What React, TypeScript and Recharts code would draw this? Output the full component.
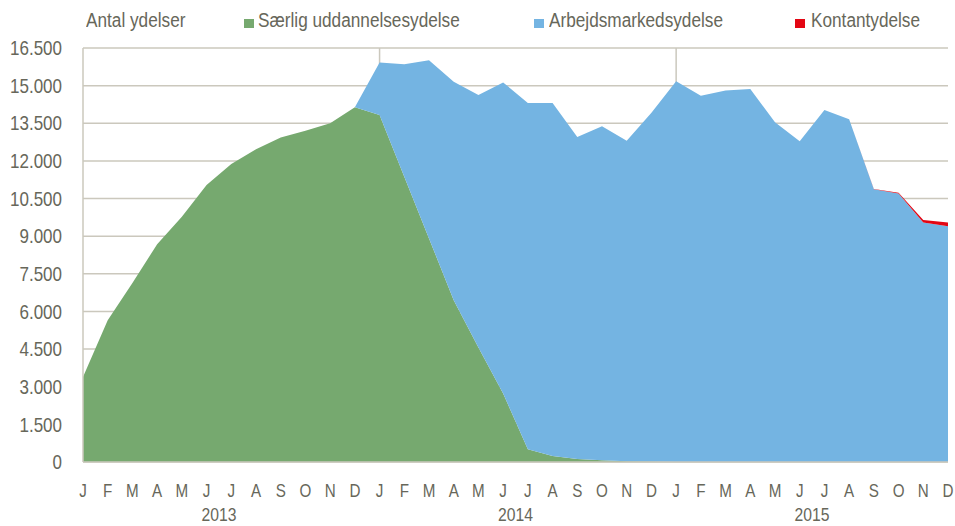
import React from 'react';
import { AreaChart, Area, XAxis, YAxis, CartesianGrid } from 'recharts';

const months = ['J', 'F', 'M', 'A', 'M', 'J', 'J', 'A', 'S', 'O', 'N', 'D'];
const years = ['2013', '2014', '2015'];

const saerlig = [
  3390, 5650, 7130, 8680, 9770, 11040, 11880, 12460, 12930, 13200, 13500, 14140,
  13830, 11370, 8910, 6450, 4560, 2730, 507, 240, 120, 68, 28, 15,
  5, 0, 0, 0, 0, 0, 0, 0, 0, 0, 0, 0,
];
const arbejds = [
  0, 0, 0, 0, 0, 0, 0, 0, 0, 0, 0, 0,
  2090, 4480, 7100, 8700, 10070, 12400, 13800, 14070, 12830, 13310, 12780, 13905,
  15165, 14600, 14810, 14870, 13540, 12780, 14030, 13660, 10870, 10700, 9550, 9400,
];
const kontant = [
  0, 0, 0, 0, 0, 0, 0, 0, 0, 0, 0, 0,
  0, 0, 0, 0, 0, 0, 0, 0, 0, 0, 0, 0,
  0, 0, 0, 0, 0, 0, 0, 0, 10, 30, 90, 150,
];
const yTicks = [0, 1500, 3000, 4500, 6000, 7500, 9000, 10500, 12000, 13500, 15000, 16500];

const seriesNames = ['Særlig uddannelsesydelse', 'Arbejdsmarkedsydelse', 'Kontantydelse'];
const colors = ['#76a96f', '#74b4e2', '#e30613'];

const data = saerlig.map((v, i) => ({
  key: `${years[Math.floor(i / 12)]}-${i % 12}`,
  saerlig: v,
  arbejds: arbejds[i],
  kontant: kontant[i],
}));

// first month of 2014 and 2015 get a vertical separator
const yearStarts = [12, 24];

const FONT = '"Liberation Sans", Arial, sans-serif';
const TEXT = '#67675a';
const GRID = '#cbc8bd';

const fmt = (v: number) => String(v).replace(/\B(?=(\d{3})+(?!\d))/g, '.');

const MonthTick = (props: any) => {
  const { x, y, payload, index, width, visibleTicksCount } = props;
  const i = payload?.index ?? index;
  const step = width && visibleTicksCount > 1 ? width / (visibleTicksCount - 1) : 24.7;
  return (
    <g>
      <text
        transform={`translate(${x},${y + 35}) scale(0.8,1)`}
        textAnchor="middle"
        fill={TEXT}
        fontSize={19}
        fontFamily={FONT}
      >
        {months[i % 12]}
      </text>
      {i % 12 === 5 && (
        <text
          transform={`translate(${x + step / 2},${y + 59}) scale(0.85,1)`}
          textAnchor="middle"
          fill={TEXT}
          fontSize={18.5}
          fontFamily={FONT}
        >
          {years[Math.floor(i / 12)]}
        </text>
      )}
    </g>
  );
};

const ValueTick = (props: any) => {
  const { x, y, payload } = props;
  return (
    <text
      transform={`translate(${x},${y}) scale(0.85,1)`}
      dy="0.36em"
      textAnchor="end"
      fill={TEXT}
      fontSize={20}
      fontFamily={FONT}
    >
      {fmt(payload.value)}
    </text>
  );
};

const legendItems = [
  { left: 244, textLeft: 258 },
  { left: 534, textLeft: 549 },
  { left: 795, textLeft: 811 },
];

const labelStyle: React.CSSProperties = {
  position: 'absolute',
  top: 9,
  fontSize: 20,
  color: TEXT,
  whiteSpace: 'nowrap',
  transform: 'scaleX(0.86)',
  transformOrigin: 'left top',
};

export default function App() {
  return (
    <div style={{ position: 'absolute', left: 0, top: 0, width: 955, height: 526, background: '#fff', fontFamily: FONT }}>
      <div style={{ ...labelStyle, left: 86 }}>Antal ydelser</div>
      {seriesNames.map((n, i) => (
        <React.Fragment key={n}>
          <div
            style={{
              position: 'absolute',
              left: legendItems[i].left,
              top: 19,
              width: 10,
              height: 9,
              background: colors[i],
            }}
          />
          <div style={{ ...labelStyle, left: legendItems[i].textLeft }}>{n}</div>
        </React.Fragment>
      ))}
      <AreaChart
        width={955}
        height={526}
        data={data}
        margin={{ top: 48, right: 7, bottom: 0, left: 8 }}
      >
        <CartesianGrid
          stroke={GRID}
          strokeWidth={1.5}
          verticalCoordinatesGenerator={(args: any) => {
            const off = args?.offset;
            if (!off || !off.width) return [];
            const n = data.length;
            return yearStarts.map((i) => off.left + (off.width * i) / (n - 1));
          }}
        />
        <XAxis
          dataKey="key"
          interval={0}
          tickLine={false}
          tickSize={0}
          tickMargin={0}
          height={64}
          axisLine={{ stroke: GRID, strokeWidth: 1.5 }}
          tick={<MonthTick />}
        />
        <YAxis
          width={75}
          domain={[0, 16500]}
          ticks={yTicks}
          tickLine={false}
          tickSize={0}
          tickMargin={21}
          axisLine={{ stroke: GRID, strokeWidth: 1.5 }}
          tick={<ValueTick />}
        />
        <Area
          type="linear"
          dataKey="saerlig"
          stackId="1"
          stroke="none"
          fill={colors[0]}
          fillOpacity={1}
          isAnimationActive={false}
        />
        <Area
          type="linear"
          dataKey="arbejds"
          stackId="1"
          stroke="none"
          fill={colors[1]}
          fillOpacity={1}
          isAnimationActive={false}
        />
        <Area
          type="linear"
          dataKey="kontant"
          stackId="1"
          stroke="none"
          fill={colors[2]}
          fillOpacity={1}
          isAnimationActive={false}
        />
      </AreaChart>
    </div>
  );
}
